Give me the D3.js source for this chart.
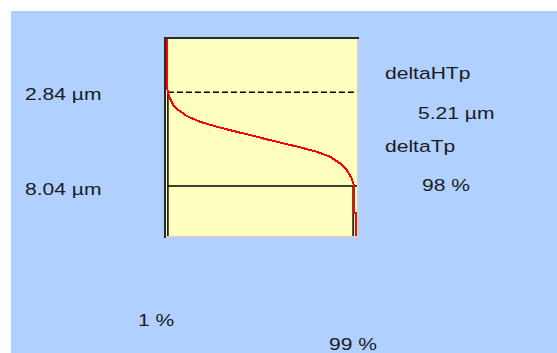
<!DOCTYPE html>
<html>
<head>
<meta charset="utf-8">
<script src="https://cdn.jsdelivr.net/npm/d3@7"></script>
<style>
  html, body { margin: 0; padding: 0; background: #ffffff; }
  svg { display: block; }
  text { font-family: "Liberation Sans", Arial, sans-serif; font-size: 17px; fill: #1c1c1c; }
</style>
</head>
<body>
<svg id="chart" width="557" height="353"></svg>
<script>
// Abbott-Firestone (bearing ratio) curve: material ratio (%) against depth (µm)
const ratioPct = [0.6, 0.6, 1.0, 1.2, 2.1, 3.8, 6.5, 10.9, 17.9, 26.7, 35.4, 44.2, 53.0, 61.7, 70.5, 79.3, 86.3, 91.6, 95.1, 97.7, 99.0, 99.0, 100, 100];
const depthUm  = [-0.1, 2.6, 2.84, 2.95, 3.18, 3.55, 3.83, 4.16, 4.48, 4.75, 4.99, 5.21, 5.45, 5.67, 5.89, 6.14, 6.41, 6.78, 7.15, 7.61, 8.04, 9.5, 9.5, 10.8];

// Reference cut levels
const cutRatioPct = [1, 99];
const cutDepthUm = [2.84, 8.04];
const deltaHTpUm = 5.21;
const deltaTpPct = 98;

const svg = d3.select("#chart");

// panel background
svg.append("rect").attr("x", 11).attr("y", 11).attr("width", 557 - 11).attr("height", 353 - 11)
  .attr("fill", "#b0d0ff");

// plot frame
const frame = { left: 164, top: 37, right: 359, bottom: 238 };
svg.append("rect")
  .attr("x", frame.left).attr("y", frame.top)
  .attr("width", frame.right - frame.left).attr("height", frame.bottom - frame.top)
  .attr("fill", "#ffffc0");

const x = d3.scaleLinear().domain([0, 100]).range([166, 356]);
const y = d3.scaleLinear().domain([-0.1, 10.8]).range([39, 236]);

const g = svg.append("g");

// cut lines
g.append("line")
  .attr("x1", x(cutRatioPct[0])).attr("x2", frame.right - 2)
  .attr("y1", y(cutDepthUm[0])).attr("y2", y(cutDepthUm[0]))
  .attr("stroke", "#000").attr("stroke-width", 1.5).attr("stroke-dasharray", "6,3");
g.append("line")
  .attr("x1", x(cutRatioPct[0])).attr("x2", frame.right - 2)
  .attr("y1", y(cutDepthUm[1])).attr("y2", y(cutDepthUm[1]))
  .attr("stroke", "#000").attr("stroke-width", 1.5);
g.append("line")
  .attr("x1", x(cutRatioPct[0])).attr("x2", x(cutRatioPct[0]))
  .attr("y1", y(cutDepthUm[0])).attr("y2", frame.bottom - 2)
  .attr("stroke", "#000").attr("stroke-width", 1.5);
g.append("line")
  .attr("x1", x(cutRatioPct[1]) - 1).attr("x2", x(cutRatioPct[1]) - 1)
  .attr("y1", y(cutDepthUm[1])).attr("y2", frame.bottom - 2)
  .attr("stroke", "#000").attr("stroke-width", 1.5);

// bearing curve
const line = d3.line().x(d => x(d[0])).y(d => y(d[1]));
g.append("path")
  .datum(d3.zip(ratioPct, depthUm))
  .attr("d", line)
  .attr("fill", "none").attr("stroke", "#ff0000").attr("stroke-width", 2)
  .attr("shape-rendering", "crispEdges");

// sunken frame edges
svg.append("path").attr("d", `M${frame.left + 1},${frame.bottom}V${frame.top + 1}H${frame.right}`)
  .attr("fill", "none").attr("stroke", "#2a2a2a").attr("stroke-width", 2);
svg.append("path").attr("d", `M${frame.left + 2},${frame.bottom - 1}H${frame.right - 1}V${frame.top + 2}`)
  .attr("fill", "none").attr("stroke", "#d0d0d0").attr("stroke-width", 2);

// labels
const fmt = d3.format(".2f");
const labels = [
  { text: `${fmt(cutDepthUm[0])} µm`, x: 25, y: 100 },
  { text: `${fmt(cutDepthUm[1])} µm`, x: 25, y: 195 },
  { text: "deltaHTp", x: 385, y: 79 },
  { text: `${fmt(deltaHTpUm)} µm`, x: 418, y: 119 },
  { text: "deltaTp", x: 385, y: 152 },
  { text: `${deltaTpPct} %`, x: 422, y: 191 },
  { text: `${cutRatioPct[0]} %`, x: 138, y: 326 },
  { text: `${cutRatioPct[1]} %`, x: 329, y: 350 }
];
svg.selectAll("text.lbl").data(labels).join("text")
  .attr("class", "lbl")
  .attr("transform", d => `translate(${d.x},${d.y}) scale(1.24,1)`)
  .text(d => d.text);
</script>
</body>
</html>
